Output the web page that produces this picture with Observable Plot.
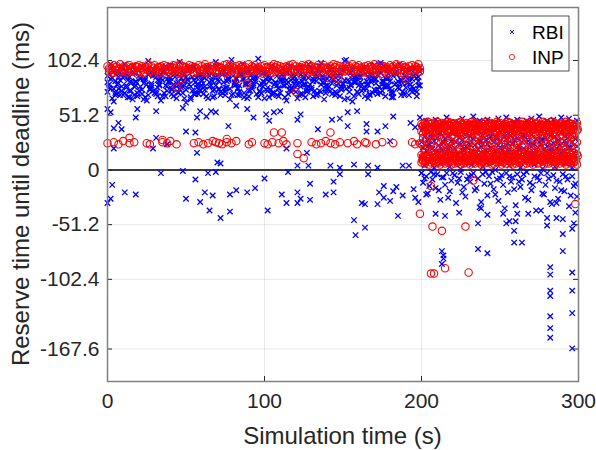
<!DOCTYPE html>
<html>
<head>
<meta charset="utf-8">
<script src="https://cdn.jsdelivr.net/npm/d3@7"></script>
<script src="https://cdn.jsdelivr.net/npm/@observablehq/plot@0.6"></script>
<style>
  html, body { margin: 0; padding: 0; background: #fff; }
  #chart { width: 596px; height: 450px; }
</style>
</head>
<body>
<div id="chart"></div>
<script>
// ---------- tick labels ----------
const xTicks = [0, 100, 200, 300];
const yTicks = [-167.6, -102.4, -51.2, 0, 51.2, 102.4];
const seriesNames = ["RBI", "INP"];

// ---------- time grids (s) ----------
const t1 = [0,2,4,6,8,10,12,14,16,18,20,22,24,26,28,30,32,34,36,38,40,42,44,46,48,50,52,54,56,58,60,62,64,66,68,70,72,74,76,78,80,82,84,86,88,90,92,94,96,98,100,102,104,106,108,110,112,114,116,118,120,122,124,126,128,130,132,134,136,138,140,142,144,146,148,150,152,154,156,158,160,162,164,166,168,170,172,174,176,178,180,182,184,186,188,190,192,194,196,198];
const t1o = [1,3,5,7,9,11,13,15,17,19,21,23,25,27,29,31,33,35,37,39,41,43,45,47,49,51,53,55,57,59,61,63,65,67,69,71,73,75,77,79,81,83,85,87,89,91,93,95,97,99,101,103,105,107,109,111,113,115,117,119,121,123,125,127,129,131,133,135,137,139,141,143,145,147,149,151,153,155,157,159,161,163,165,167,169,171,173,175,177,179,181,183,185,187,189,191,193,195,197,199];
const t2 = [200,201,202,203,204,205,206,207,208,209,210,211,212,213,214,215,216,217,218,219,220,221,222,223,224,225,226,227,228,229,230,231,232,233,234,235,236,237,238,239,240,241,242,243,244,245,246,247,248,249,250,251,252,253,254,255,256,257,258,259,260,261,262,263,264,265,266,267,268,269,270,271,272,273,274,275,276,277,278,279,280,281,282,283,284,285,286,287,288,289,290,291,292,293,294,295,296,297,298,299];
const t2h = [200.5,201.5,202.5,203.5,204.5,205.5,206.5,207.5,208.5,209.5,210.5,211.5,212.5,213.5,214.5,215.5,216.5,217.5,218.5,219.5,220.5,221.5,222.5,223.5,224.5,225.5,226.5,227.5,228.5,229.5,230.5,231.5,232.5,233.5,234.5,235.5,236.5,237.5,238.5,239.5,240.5,241.5,242.5,243.5,244.5,245.5,246.5,247.5,248.5,249.5,250.5,251.5,252.5,253.5,254.5,255.5,256.5,257.5,258.5,259.5,260.5,261.5,262.5,263.5,264.5,265.5,266.5,267.5,268.5,269.5,270.5,271.5,272.5,273.5,274.5,275.5,276.5,277.5,278.5,279.5,280.5,281.5,282.5,283.5,284.5,285.5,286.5,287.5,288.5,289.5,290.5,291.5,292.5,293.5,294.5,295.5,296.5,297.5,298.5,299.5];

// ---------- RBI, 0-200 s (ms) ----------
const rbiA = [88,76,92,71,84,95,79,68,90,82,74,97,86,70,81,93,77,89,72,85,98,80,67,91,83,75,94,87,73,80,90,78,96,84,69,88,92,76,83,99,71,86,79,94,81,74,90,85,68,93,82,77,97,72,88,84,79,91,75,86,95,70,83,89,78,92,74,87,100,81,76,93,85,71,90,80,96,73,88,84,79,94,69,87,82,98,75,91,78,85,92,72,89,81,95,77,86,73,90,83];
const rbiB = [80,93,72,87,78,99,84,74,91,69,86,81,95,76,89,73,83,92,79,88,71,94,82,77,90,85,68,96,80,74,87,92,78,83,101,75,89,70,86,93,81,77,90,72,95,84,79,88,73,91,85,68,97,82,76,89,93,71,84,80,92,78,87,74,96,83,70,90,86,79,94,81,73,88,77,102,84,91,69,87,82,95,76,89,72,85,93,80,78,90,74,97,83,70,88,81,94,76,86,92];
const rbiC = [73,85,64,80,91,70,77,87,66,83,94,75,68,89,79,72,84,65,92,78,86,69,81,76,88,63,95,74,82,71,79,86,67,90,75,84,70,93,77,66,88,80,73,85,91,69,78,83,94,72,67,87,75,80,70,92,84,65,78,89,73,82,96,68,86,77,91,71,80,66,85,74,88,79,69,93,76,83,64,87,71,80,90,67,84,75,89,72,97,78,83,68,92,76,81,87,70,85,74,79];
const rbiD = [90,67,83,76,96,72,88,81,70,94,78,85,65,91,74,87,80,69,97,83,75,90,72,86,79,93,66,84,77,89,71,95,82,68,87,76,91,73,84,103,79,70,92,85,67,88,81,96,74,78,90,83,72,94,69,86,79,91,76,84,67,89,80,73,93,85,70,97,82,75,88,71,91,84,78,66,95,80,87,73,92,76,83,70,89,81,99,74,86,79,68,91,77,85,72,94,80,88,69,96];
const rbiE = [82,99,76,91,70,86,93,74,97,79,88,71,84,102,77,91,69,86,95,74,83,92,78,101,72,87,80,96,71,89,84,75,93,79,88,97,73,82,90,76,94,85,70,99,80,92,76,87,104,81,91,74,86,95,79,72,90,84,97,76,83,93,71,80,99,75,88,94,73,86,79,97,84,72,91,81,103,77,93,82,87,74,96,80,90,85,71,100,83,94,76,88,81,99,73,92,84,78,95,87];
const rbiF = [77,86,70,81,74,89,68,83,78,72,85,66,80,75,88,71,79,84,69,82,76,87,73,80,67,84,78,71,86,75,81,69,88,74,79,83,72,77,85,70,82,76,89,68,80,74,86,71,79,83,75,88,70,81,77,84,68,82,73,87,79,71,85,76,80,69,83,74,88,72,78,86,70,81,75,84,67,79,82,73,87,76,80,71,85,74,78,83,69,86,72,80,77,84,70,82,75,88,73,79];
// scattered RBI, 0-200 s
const rbiSx = [0,2,7,4,9,18,19,31,31,29,4,38,48,50,56,57,57,59,63,66,69,77,70,82,89,93,101,103,106,110,114,121,123,121,128,127,134,143,148,153,153,159,165,165,172,177,182,180,188,193,196,199,148,166,172,192,142,157,
  3,2,0,11,18,34,48,50,56,59,62,64,65,67,69,72,72,78,78,82,89,94,100,102,111,114,115,121,121,123,129,129,139,144,144,148,157,158,162,164,164,166,172,173,176,176,180,182,184,185,188,195,196,198,200,203];
const rbiSy = [57,54,44,39,38,49,57,55,30,20,20,24,58,36,35,49,16,55,50,55,54,41,7,60,57,49,52,46,54,55,20,47,52,4,4,16,38,47,48,41,54,55,43,36,36,41,50,27,4,44,40,49,2,4,2,4,4,5,
  -14,-27,-31,-21,-23,-3,-1,-27,-9,-30,-21,-3,-38,-24,-2,-45,6,-23,-39,-19,-21,-17,-8,-38,-23,-31,-2,-21,-31,-27,-13,-28,-23,-21,-11,-4,-47,-61,-31,-32,-54,-4,-32,-21,-15,-26,-29,-20,-16,-43,-24,-18,-26,-30,-3,-23];

// ---------- RBI, 200-300 s ----------
const rbi2a = [26,21,31,18,28,24,33,20,27,16,30,23,35,19,25,29,17,32,22,27,34,20,26,15,30,24,28,18,33,21,25,31,17,29,23,35,19,27,22,32,16,28,24,30,20,34,26,18,31,23,27,15,33,21,29,25,19,32,24,28,17,30,22,35,26,20,31,18,27,23,33,25,16,29,21,34,24,28,19,30,22,26,32,17,25,31,20,28,23,35,18,27,24,30,21,33,26,16,29,22];
const rbi2b = [12,38,4,46,22,8,41,30,2,47,17,35,6,44,26,10,49,19,3,40,28,14,45,7,33,1,48,20,37,9,43,24,5,50,15,39,11,46,27,3,36,18,47,8,31,13,44,0,29,48,21,6,42,16,49,34,4,38,25,45,10,47,19,2,41,32,7,46,14,37,48,23,5,43,12,50,28,1,39,17,46,9,35,20,47,3,42,26,11,49,15,44,6,33,48,21,2,40,13,46];
const rbi2Sx = [200,201,203,204,206,207,209,210,212,213,215,216,218,219,221,222,224,225,227,228,230,231,233,234,236,237,239,240,242,243,245,246,248,249,251,252,254,255,257,258,260,261,263,264,266,267,269,270,272,273,275,276,278,279,281,282,284,285,287,288,290,291,293,294,296,297,299,
  202,205,208,211,214,217,220,223,226,229,232,235,238,241,244,247,250,253,256,259,262,265,268,271,274,277,280,283,286,289,292,295,298,
  213,214,214,213,236,242,236,259,259,264,254,256,260,280,282,282,282,282,282,282,282,290,290,296,297,296,296,296,296,290,286,280,298,209,215,224,238,242,252,261,268,276,286];
const rbi2Sy = [-3,-12,-6,-22,-2,-9,-17,-4,-28,-7,-14,-3,-20,-10,-5,-31,-8,-2,-16,-25,-6,-11,-3,-19,-8,-35,-4,-13,-24,-6,-2,-18,-9,-29,-5,-14,-3,-21,-11,-7,-33,-4,-16,-9,-26,-2,-12,-19,-6,-38,-10,-3,-23,-14,-8,-30,-5,-17,-27,-11,-4,-20,-9,-34,-6,-15,-25,
  -8,-15,-4,-19,-7,-26,-3,-12,-21,-9,-5,-17,-30,-2,-13,-23,-8,-36,-6,-18,-11,-4,-28,-14,-7,-22,-3,-32,-10,-19,-6,-24,-13,
  -76,-80,-83,-88,-74,-78,-50,-57,-68,-68,-50,-48,-48,-52,-91,-98,-113,-118,-137,-148,-157,-60,-76,-55,-50,-96,-113,-134,-167,-46,-45,-45,-40,-41,-43,-40,-36,-42,-41,-41,-41,-38,-31];

// ---------- INP, 0-200 s ----------
const inpHi = [97,96,98,97,99,96,97,98,96,97,98,97,96,99,97,98,96,97,98,97,96,98,97,99,97,96,98,97,96,98,97,99,96,97,98,97,96,98,99,97,96,97,98,97,96,99,97,98,96,97,98,96,97,99,98,97,96,97,98,99,97,96,98,97,99,97,96,98,97,98,96,97,99,98,97,96,98,97,99,97,98,96,97,98,97,99,96,98,97,96,98,97,99,97,98,96,97,98,97,99];
const inpMid = [95,94,96,95,93,96,94,95,93,96,95,94,96,93,95,94,96,95,93,94,96,95,94,93,96,95,94,96,95,93,94,96,95,94,93,96,95,94,96,93,95,94,96,95,93,94,96,95,94,93,96,95,94,96,95,93,94,96,95,94,93,96,95,94,96,93,95,94,96,95,93,94,96,95,94,93,96,95,94,96,95,93,94,96,95,94,93,96,95,94,96,93,95,94,96,95,93,94,96,95];
const inpLo = [92,91,93,90,92,94,91,92,93,90,92,91,94,92,90,93,91,92,94,91,93,92,90,91,93,92,94,91,92,90,93,91,92,94,90,92,93,91,92,94,91,93,90,92,91,93,92,94,91,90,92,93,91,92,94,90,93,92,91,93,92,90,94,91,92,93,91,92,90,94,93,91,92,90,93,92,94,91,92,93,90,92,91,94,92,91,93,90,92,91,94,92,93,91,90,92,93,91,94,92];
const inpSx = [0,4,7,10,14,17,25,27,35,38,40,44,55,58,61,64,67,69,71,73,76,79,82,90,92,100,102,105,109,112,114,121,130,133,136,139,142,145,148,153,157,159,164,165,171,175,182,194,196,199,
  106,111,142,121,125,76,14,35,44,47,83,89,120,141,147,190];
const inpSy = [25,26,24,27,25,26,25,24,26,25,27,24,25,26,24,25,27,26,25,24,26,25,27,24,26,25,24,26,25,27,24,25,26,24,25,27,25,24,26,25,27,24,26,25,24,26,25,26,24,25,
  35,35,35,15,11,29,30,28,77,85,85,81,73,86,85,85];

// ---------- INP, 200-300 s ----------
const inp2a = [43,41,44,42,45,40,43,44,41,42,45,43,40,44,42,41,43,45,42,44,40,43,42,44,41,45,43,42,40,44,43,41,45,42,44,43,40,42,44,41,43,45,42,40,44,43,41,42,45,43,44,40,42,43,41,45,44,42,43,40,42,44,41,43,45,42,40,44,43,41,45,42,43,44,40,41,43,45,42,44,43,40,42,45,41,44,43,42,40,44,41,43,45,42,44,40,43,41,42,44];
const inp2b = [36,34,38,35,37,33,39,36,34,37,35,38,33,36,39,34,37,35,38,36,33,37,35,39,34,36,38,33,37,35,39,36,34,38,35,37,33,36,39,34,37,35,38,36,33,39,34,37,35,38,36,34,37,33,39,35,38,36,34,37,35,39,33,36,38,34,37,35,39,36,34,38,35,33,37,36,39,34,38,35,37,33,36,39,35,38,34,37,36,33,38,35,37,34,39,36,33,38,35,37];
const inp2c = [7,9,6,8,10,5,7,9,8,6,10,7,5,9,8,6,10,7,9,5,8,6,10,7,9,5,8,6,7,10,9,5,8,7,6,10,9,7,5,8,6,10,7,9,8,5,6,10,7,9,8,5,7,10,6,9,8,7,5,10,6,9,7,8,10,5,9,6,8,7,10,5,8,9,6,7,10,8,5,9,7,6,10,8,9,5,7,10,6,8,9,7,5,10,8,6,9,7,10,5];
const inp2d = [14,12,16,13,15,11,17,14,12,15,13,16,11,14,17,12,15,13,16,14,11,15,13,17,12,14,16,11,15,13,17,14,12,16,13,15,11,14,17,12,15,13,16,14,11,17,12,15,13,16,14,12,15,11,17,13,16,14,12,15,13,17,11,14,16,12,15,13,17,14,12,16,13,11,15,14,17,12,16,13,15,11,14,17,13,16,12,15,14,11,16,13,15,12,17,14,11,16,13,15];
const inp2e = [24,30,19,27,22,31,25,18,28,21,32,26,20,29,23,19,30,25,27,22,18,31,24,28,20,26,32,21,29,23,25,19,30,22,27,31,18,24,28,20,26,32,23,29,21,25,19,30,27,22,31,24,18,28,20,26,29,23,32,21,25,30,19,27,22,24,31,18,28,26,20,29,23,32,21,25,19,30,27,24,22,31,18,28,26,20,29,23,32,25,21,27,19,30,24,22,31,28,20,26];
const inp2f = [41,39,42,40,38,43,40,41,39,42,38,40,43,41,39,40,42,38,41,43,39,40,42,41,38,40,43,39,41,42,40,38,41,43,39,42,40,41,38,43,40,39,42,41,38,40,43,41,39,42,40,38,41,43,39,40,42,41,38,40,43,39,41,42,40,38,41,43,39,42,40,41,38,43,40,39,42,41,38,40,43,41,39,42,40,38,41,43,39,40,42,41,38,40,43,39,41,42,40,38];
const inp2g = [9,11,8,12,10,13,9,11,12,8,10,13,11,9,12,10,8,11,13,9,12,10,11,8,13,9,10,12,11,8,9,13,10,12,11,9,8,12,10,13,11,9,12,8,10,11,13,9,12,10,8,11,13,9,10,12,11,8,13,9,12,10,11,8,9,13,10,12,11,9,8,12,10,13,11,9,12,8,10,11,13,9,12,10,8,11,13,9,10,12,11,8,13,9,12,10,11,8,9,13];
const inp2Sx = [199,207,213,228,206,208,215,230,298,233,206];
const inp2Sy = [-41,-53,-57,-53,-97,-97,-92,-96,-32,-10,-15];

// ---------- build rows ----------
const rows = (xs, ys) => xs.map((x, i) => ({t: x, v: ys[i]}));
const rbi = [].concat(
  rows(t1, rbiA), rows(t1o, rbiB), rows(t1, rbiC), rows(t1o, rbiD), rows(t1, rbiE), rows(t1o, rbiF),
  rows(rbiSx, rbiSy), rows(t2, rbi2a), rows(t2, rbi2b), rows(rbi2Sx, rbi2Sy)
);
const inp = [].concat(
  rows(t1, inpHi), rows(t1o, inpMid), rows(t1o, inpLo), rows(inpSx, inpSy),
  rows(t2, inp2c), rows(t2h, inp2g), rows(t2, inp2d), rows(t2, inp2e),
  rows(t2, inp2b), rows(t2h, inp2f), rows(t2, inp2a), rows(inp2Sx, inp2Sy)
);

const FONT = "'Liberation Sans', Arial, Helvetica, sans-serif";
const INK = "#262626";
const fmt = d => String(d);
const W = 596, H = 450, ML = 107, MR = 18, MT = 7, MB = 69;
const TICK = 5;

const chart = Plot.plot({
  width: W, height: H,
  marginLeft: ML, marginRight: MR, marginTop: MT, marginBottom: MB,
  style: {fontFamily: FONT, fontSize: "21px", color: INK, background: "white"},
  x: {domain: [0, 300], ticks: xTicks},
  y: {domain: [-198, 152], ticks: yTicks},
  marks: [
    Plot.gridX(xTicks, {stroke: INK, strokeOpacity: 0.1}),
    Plot.gridY(yTicks, {stroke: INK, strokeOpacity: 0.1}),
    Plot.ruleY([0], {stroke: "#000", strokeWidth: 1.5}),
    Plot.dot(rbi, {x: "t", y: "v", symbol: "times", r: 2.6, stroke: "#0000ff", strokeWidth: 1.3}),
    Plot.dot(inp, {x: "t", y: "v", symbol: "circle", r: 3.7, stroke: "#ff0000", fill: "none", strokeWidth: 1.1}),
    Plot.ruleX(xTicks, {stroke: INK, insetTop: H - MT - MB - TICK}),
    Plot.ruleX(xTicks, {stroke: INK, insetBottom: H - MT - MB - TICK}),
    Plot.ruleY(yTicks, {stroke: INK, insetRight: W - ML - MR - TICK}),
    Plot.ruleY(yTicks, {stroke: INK, insetLeft: W - ML - MR - TICK}),
    Plot.frame({stroke: "#808080", strokeWidth: 1.5}),
    Plot.axisX(xTicks, {tickSize: 0, tickPadding: 12, tickFormat: fmt, label: null}),
    Plot.axisY(yTicks, {tickSize: 0, tickPadding: 8, tickFormat: fmt, label: null})
  ]
});

const svg = d3.select(chart);
// axis titles
svg.append("text").attr("x", (ML + W - MR) / 2).attr("y", 444)
  .attr("text-anchor", "middle").attr("fill", INK)
  .style("font-family", FONT).style("font-size", "24px")
  .text("Simulation time (s)");
svg.append("text").attr("transform", `translate(29,${(MT + H - MB) / 2}) rotate(-90)`)
  .attr("text-anchor", "middle").attr("fill", INK)
  .style("font-family", FONT).style("font-size", "24px")
  .text("Reserve time until deadline (ms)");
// legend
const lg = svg.append("g");
lg.append("rect").attr("x", 492).attr("y", 16).attr("width", 77).attr("height", 55)
  .attr("fill", "white").attr("stroke", INK).attr("stroke-width", 0.8);
lg.append("path").attr("transform", "translate(512,32)")
  .attr("d", d3.symbol(d3.symbolTimes, 12)()).attr("stroke", "#0000ff").attr("fill", "none");
lg.append("circle").attr("cx", 512).attr("cy", 57).attr("r", 2.7)
  .attr("stroke", "#ff0000").attr("fill", "none").attr("stroke-width", 0.8);
seriesNames.forEach((name, i) => {
  lg.append("text").attr("x", 532).attr("y", 39 + i * 25).attr("fill", "#000")
    .attr("text-anchor", "start")
    .style("font-family", FONT).style("font-size", "19px").text(name);
});

document.getElementById("chart").appendChild(chart);
</script>
</body>
</html>
